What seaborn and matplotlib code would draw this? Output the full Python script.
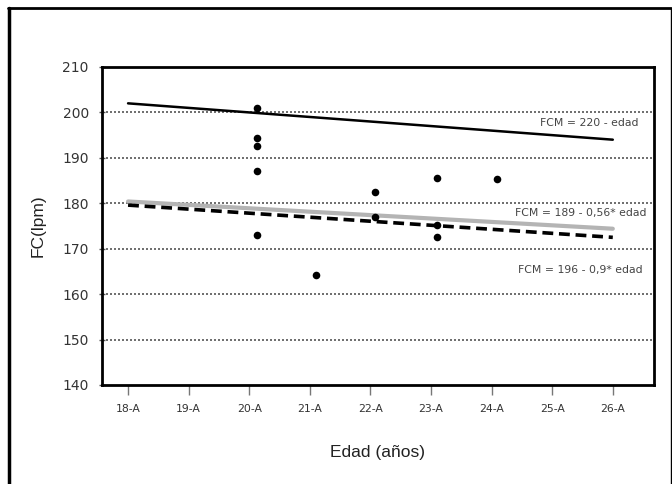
import matplotlib
matplotlib.use("Agg")
import matplotlib.pyplot as plt
import seaborn as sns
import pandas as pd
from matplotlib.lines import Line2D

sns.set_theme(style="white")
plt.rcParams['font.family'] = ['DejaVu Sans']

# Observed data points (age in years, heart rate)
edad_obs = [20.12, 20.12, 20.12, 20.12, 20.12, 21.11, 22.08, 22.08, 23.1, 23.1, 23.1, 24.09]
fc_obs = [200.9, 194.3, 192.6, 187.2, 173.1, 164.2, 182.5, 177.0, 185.5, 175.2, 172.6, 185.3]

# Regression lines (endpoints at ages 18 and 26)
edad_line = [18, 26]
fcm_220 = [202.0, 194.0]
fcm_189 = [180.4, 174.4]
fcm_196 = [179.6, 172.5]

x_ticks = [18, 19, 20, 21, 22, 23, 24, 25, 26]
x_labels = ["18-A", "19-A", "20-A", "21-A", "22-A", "23-A", "24-A", "25-A", "26-A"]
y_ticks = [140, 150, 160, 170, 180, 190, 200, 210]

labels = ["FCM = 220 - edad", "FCM = 189 - 0,56* edad", "FCM = 196 - 0,9* edad"]

fig = plt.figure(figsize=(6.72, 4.84), dpi=100)
ax = fig.add_axes([102/672, 1-385/484, (654-102)/672, (385-67)/484])

# grid lines
for yv in y_ticks[1:]:
    ax.axhline(yv, color="#555555", lw=1.2, ls=(0, (1.2, 1.2)), zorder=1)

df220 = pd.DataFrame({"edad": edad_line, "fc": fcm_220})
df189 = pd.DataFrame({"edad": edad_line, "fc": fcm_189})
df196 = pd.DataFrame({"edad": edad_line, "fc": fcm_196})
sns.lineplot(data=df189, x="edad", y="fc", ax=ax, color="#b4b4b4", lw=3, zorder=2)
sns.lineplot(data=df220, x="edad", y="fc", ax=ax, color="black", lw=1.8, zorder=3)
sns.lineplot(data=df196, x="edad", y="fc", ax=ax, color="black", lw=2.6,
             linestyle=(0, (3, 1.6)), zorder=3)

obs = pd.DataFrame({"edad": edad_obs, "fc": fc_obs})
sns.scatterplot(data=obs, x="edad", y="fc", ax=ax, color="black", s=30,
                edgecolor="black", linewidth=0, zorder=4)

ax.set_xlim(17.57, 26.68)
ax.set_ylim(140, 210)
ax.set_xticks(x_ticks)
ax.set_xticklabels(x_labels, fontsize=7.8, color="#333333")
ax.set_yticks(y_ticks)
ax.set_yticklabels([str(v) for v in y_ticks], fontsize=10, color="#333333")
ax.tick_params(axis="y", which="both", direction="inout", length=5, width=1,
               color="#555555", left=True, pad=7)
ax.tick_params(axis="x", which="both", direction="out", length=7, width=1,
               color="#777777", bottom=True, pad=7)
ax.set_xlabel("Edad (años)", fontsize=12.5, color="#222222", labelpad=22,
              family="Liberation Sans")
ax.set_ylabel("FC(lpm)", fontsize=12.5, color="#222222", labelpad=12,
              family="Liberation Sans")

for s in ax.spines.values():
    s.set_visible(True)
    s.set_color("black")
    s.set_linewidth(2)

ax.text(26.43, 197.7, labels[0], fontsize=7.8, color="#444444", ha="right", va="center")
ax.text(26.56, 177.9, labels[1], fontsize=7.8, color="#444444", ha="right", va="center")
ax.text(26.50, 165.3, labels[2], fontsize=7.8, color="#444444", ha="right", va="center")

# outer frame
fig.add_artist(Line2D([9/672, 9/672], [0, 1-7.5/484], transform=fig.transFigure,
                      color="black", lw=2.5))
fig.add_artist(Line2D([8/672, 671/672], [1-7.5/484, 1-7.5/484], transform=fig.transFigure,
                      color="black", lw=2))
fig.add_artist(Line2D([670.5/672, 670.5/672], [0, 1-7.5/484], transform=fig.transFigure,
                      color="black", lw=1))

fig.savefig("out.png", dpi=100)
